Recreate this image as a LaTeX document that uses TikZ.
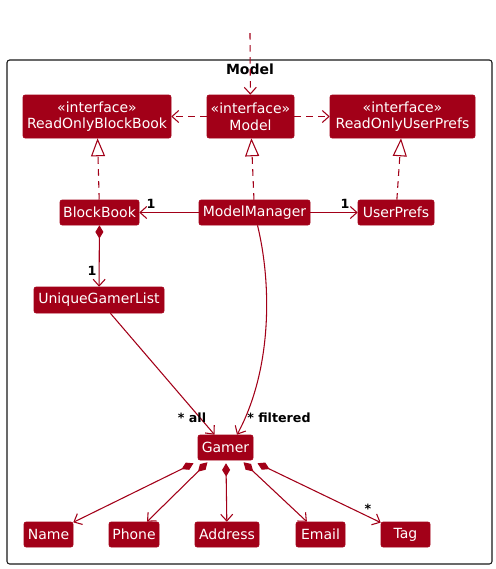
\documentclass[tikz,border=0pt]{standalone}
\usepackage{fontspec}
\usepackage{tikz}
\usetikzlibrary{arrows.meta, positioning, calc}
\setmainfont{DejaVu Sans}
\definecolor{umlred}{RGB}{162,0,24}
\definecolor{frameline}{RGB}{24,24,24}

\begin{document}
\begin{tikzpicture}[
  x=0.75pt, y=-0.75pt,
  cls/.style={fill=umlred, draw=umlred, rounded corners=1.5pt, text=white, align=center,
    font=\fontsize{10.5}{12.5}\selectfont, inner sep=0pt, minimum height=18.75pt},
  iface/.style={cls, minimum height=32.25pt},
  mult/.style={font=\fontsize{9.5}{11}\selectfont\bfseries, text=black, inner sep=0pt},
  dep/.style={umlred, line width=0.8pt, dash pattern=on 5pt off 4pt, -{Straight Barb[length=5pt, width=9pt]}},
  impl/.style={umlred, line width=0.8pt, dash pattern=on 5pt off 4pt, -{Triangle[open, fill=white, length=13.5pt, width=10.5pt]}},
  assoc/.style={umlred, line width=0.8pt, -{Straight Barb[length=5pt, width=9pt]}},
  comp/.style={umlred, line width=0.8pt, {Diamond[length=10pt, width=6pt]}-{Straight Barb[length=5pt, width=9pt]}}
]
  \useasboundingbox (0,0) rectangle (496,569);

  % package frame
  \draw[frameline, line width=0.8pt, rounded corners=2pt] (7,60) rectangle (492,564);
  \node[font=\fontsize{10.5}{12}\selectfont\bfseries, inner sep=0pt] (title) at (250,69) {Model};

  % interfaces
  \node[iface, minimum width=111pt] (robb) at (97,116.5) {«interface»\\ReadOnlyBlockBook};
  \node[iface, minimum width=65.25pt] (model) at (250.5,116.5) {«interface»\\Model};
  \node[iface, minimum width=108.75pt] (roup) at (402.5,116.5) {«interface»\\ReadOnlyUserPrefs};

  % classes
  \node[cls, minimum width=59.25pt] (bb) at (99.5,212.5) {BlockBook};
  \node[cls, minimum width=83.25pt] (mm) at (254.5,212.5) {ModelManager};
  \node[cls, minimum width=57pt] (up) at (396,212.5) {UserPrefs};
  \node[cls, minimum width=97.5pt, minimum height=19.5pt] (ugl) at (99,300) {UniqueGamerList};
  \node[cls, minimum width=41.25pt] (gamer) at (225.5,447.5) {Gamer};

  \node[cls, minimum width=36.75pt] (name) at (48.5,534.5) {Name};
  \node[cls, minimum width=37.5pt] (phone) at (134,534.5) {Phone};
  \node[cls, minimum width=48pt] (addr) at (227,534.5) {Address};
  \node[cls, minimum width=36.75pt] (email) at (320.5,534.5) {Email};
  \node[cls, minimum width=36.75pt] (tag) at (405.5,534.5) {Tag};

  \coordinate (entry) at (250,33);

  % dependencies
  \draw[dep] (entry) -- (model);
  \draw[dep] (model) -- (robb);
  \draw[dep] (model) -- (roup);

  % realizations
  \draw[impl] (bb) -- (robb);
  \draw[impl] (mm) -- (model);
  \draw[impl] (up) -- (roup);

  % associations
  \draw[assoc] (mm) -- (bb);
  \draw[assoc] (mm) -- (up);
  \draw[comp] (bb) -- (ugl);
  \draw[assoc] (ugl) -- (gamer);
  \draw[assoc] (mm.south) ++(3,0) coordinate (mmout)
    (mmout) .. controls (272,285) and (272,370) .. (gamer.north east -| 237,0);

  \node[mult] at (151,204) {1};
  \node[mult] at (345,204) {1};
  \node[mult] at (92,271) {1};
  \node[mult] at (192,418) {* all};
  \node[mult, anchor=west] at (247,418) {* filtered};

  % gamer fields
  \draw[comp] ($(gamer.south)+(-32,3)$) -- (name);
  \draw[comp] ($(gamer.south)+(-18,2)$) -- (phone);
  \draw[comp] ($(gamer.south)+(0.5,3)$) -- (addr);
  \draw[comp] ($(gamer.south)+(18,2)$) -- (email);
  \draw[comp] ($(gamer.south)+(32,3)$) -- (tag);
  \node[mult] at (368,509) {*};
\end{tikzpicture}
\end{document}
